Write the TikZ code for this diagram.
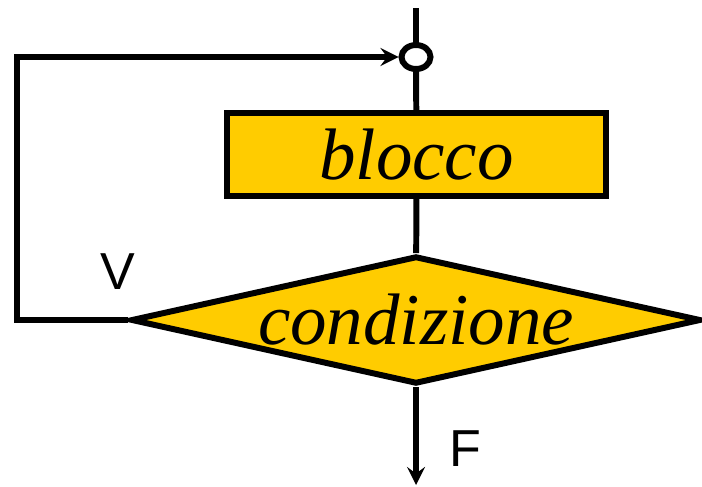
\documentclass[tikz,border=0pt]{standalone}
\usepackage{fontspec}
\setmainfont{Liberation Serif}
\setsansfont{Liberation Sans}
\usetikzlibrary{shapes.geometric}
\definecolor{giallo}{RGB}{255,204,0}
\begin{document}
\begin{tikzpicture}[>=stealth,line width=3.4pt,
    blocco/.style={draw,fill=giallo,rectangle,inner sep=0pt,minimum width=7.58cm,minimum height=1.66cm},
    decisione/.style={draw,fill=giallo,diamond,inner sep=0pt,aspect=4.45,minimum width=11.4cm,minimum height=2.56cm},
    testo/.style={font=\fontsize{41.5}{48}\selectfont\itshape},
    etich/.style={font=\fontsize{29.6}{34}\selectfont\sffamily}]
		  \useasboundingbox (0,0) rectangle (14.04,-9.72);
		  \coordinate (inizio) at (8.32,-0.16);
		  \node[draw,ellipse,fill=white,inner sep=0pt,minimum width=0.58cm,minimum height=0.48cm] (giunz) at (8.32,-1.14) {};
		  \node[blocco,testo] (blk) at (8.33,-3.09) {blocco};
		  \node[decisione] (dec) at (8.32,-6.40) {};
		  \node[testo] (cond) at (8.32,-6.40) {condizione};
		  \coordinate (fine) at (8.32,-9.70);
		  \coordinate (ang1) at (0.34,-6.40);
		  \coordinate (ang2) at (0.34,-1.14);
		  \node[etich] (vero) at (2.36,-5.44) {V};
		  \node[etich] (falso) at (9.30,-8.97) {F};
		  \draw (inizio) -- (giunz);
		  \draw (giunz) -- (blk);
		  \draw (blk) -- (dec);
		  \draw[->] (dec.south) -- (fine);
		  \draw[->] (dec.west) -- (ang1) -- (ang2) -- (giunz.west);
		\end{tikzpicture}
\end{document}
